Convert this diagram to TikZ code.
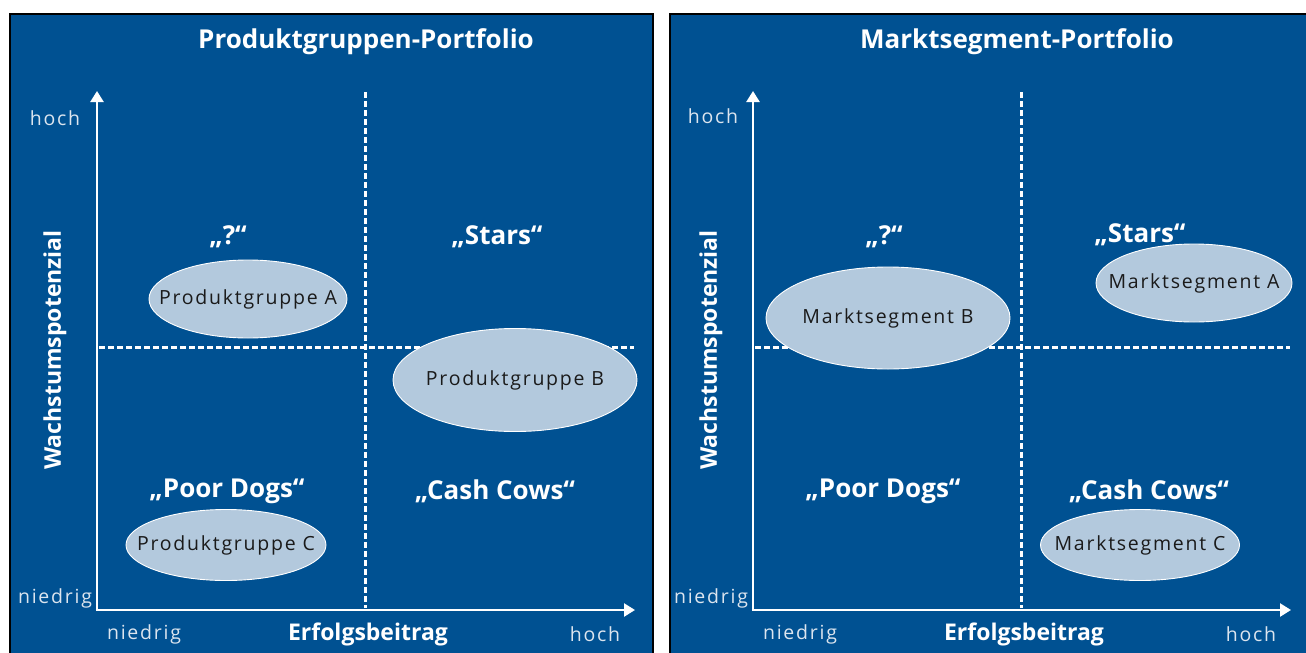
\documentclass[tikz,border=0pt]{standalone}
\usepackage{fontspec}
\setmainfont{Open Sans}
\usetikzlibrary{arrows.meta,shapes.geometric}
\definecolor{bblue}{HTML}{005192}
\definecolor{lblue}{HTML}{B3C9DD}
\definecolor{lgrey}{HTML}{DCE5EF}
\definecolor{dtext}{HTML}{1A1A1A}
\tikzset{
  panel/.style={fill=bblue, draw=black, line width=2},
  axisline/.style={white, line width=2.4, -{Triangle[width=13,length=11]}},
  dashline/.style={white, line width=3, dash pattern=on 5.5pt off 3.5pt},
  seg/.style={ellipse, fill=lblue, draw=white, line width=0.9, inner sep=0},
  segtext/.style={text=dtext, font=\fontsize{19.5}{22}\selectfont\addfontfeatures{LetterSpace=9}},
  title/.style={text=white, font=\fontsize{26}{29}\selectfont\bfseries},
  quad/.style={text=white, font=\fontsize{26}{29}\selectfont\bfseries},
  tick/.style={text=lgrey, font=\fontsize{19.5}{22}\selectfont\addfontfeatures{LetterSpace=9}},
  axlab/.style={text=white, font=\fontsize{23}{26}\selectfont\bfseries},
}
\begin{document}
\begin{tikzpicture}[x=1pt,y=-1pt]
\useasboundingbox (0,0) rectangle (1306,653);
\clip (0,0) rectangle (1306,653);
\fill[white] (0,0) rectangle (1306,653);
% panels
\draw[panel] (10,14) rectangle (653,670);
\draw[panel] (670,14) rectangle (1320,670);

% ---------- left panel ----------
\node[title] (t1) at (366,42) {Produktgruppen-Portfolio};
\coordinate (o1) at (97,610);
\coordinate (yt1) at (97,91);
\coordinate (xt1) at (635,610);
\coordinate (vd1a) at (365,92);
\coordinate (vd1b) at (365,608);
\coordinate (hd1a) at (99,347);
\coordinate (hd1b) at (634,347);
\draw[dashline] (vd1a) -- (vd1b);
\draw[dashline] (hd1a) -- (hd1b);
\draw[axisline] (o1) -- (yt1);
\draw[axisline] ([xshift=-1.2pt]o1) -- (xt1);

\node[tick] (h1y) at (55,118) {hoch};
\node[tick] (n1y) at (55,598) {niedrig};
\node[tick] (n1x) at (144,634) {niedrig};
\node[tick] (h1x) at (595,634) {hoch};
\node[axlab] (e1) at (368,634) {Erfolgsbeitrag};
\node[axlab, rotate=90] (w1) at (55,350) {Wachstumspotenzial};

\node[quad] (q1a) at (228,237) {„?“};
\node[quad] (q1b) at (497,237) {„Stars“};
\node[quad] (q1c) at (227,491) {„Poor Dogs“};
\node[quad] (q1d) at (495,491) {„Cash Cows“};

\node[seg, minimum width=198, minimum height=78] (pa) at (248,299) {};
\node[segtext] (pat) at (pa) {Produktgruppe A};
\node[seg, minimum width=244, minimum height=103] (pb) at (515,380) {};
\node[segtext] (pbt) at (pb) {Produktgruppe B};
\node[seg, minimum width=200, minimum height=71] (pc) at (226,545) {};
\node[segtext] (pct) at (pc) {Produktgruppe C};

% ---------- right panel ----------
\node[title] (t2) at (1017,42) {Marktsegment-Portfolio};
\coordinate (o2) at (753,610);
\coordinate (yt2) at (753,91);
\coordinate (xt2) at (1291,610);
\coordinate (vd2a) at (1021,92);
\coordinate (vd2b) at (1021,608);
\coordinate (hd2a) at (755,347);
\coordinate (hd2b) at (1290,347);
\draw[dashline] (vd2a) -- (vd2b);
\draw[dashline] (hd2a) -- (hd2b);
\draw[axisline] (o2) -- (yt2);
\draw[axisline] ([xshift=-1.2pt]o2) -- (xt2);

\node[tick] (h2y) at (713,116) {hoch};
\node[tick] (n2y) at (711,598) {niedrig};
\node[tick] (n2x) at (800,634) {niedrig};
\node[tick] (h2x) at (1251,634) {hoch};
\node[axlab] (e2) at (1024,634) {Erfolgsbeitrag};
\node[axlab, rotate=90] (w2) at (711,350) {Wachstumspotenzial};

\node[quad] (q2a) at (884,237) {„?“};
\node[quad] (q2b) at (1140,235) {„Stars“};
\node[quad] (q2c) at (883,491) {„Poor Dogs“};
\node[quad] (q2d) at (1149,491) {„Cash Cows“};

\node[seg, minimum width=244, minimum height=102] (mb) at (888,318) {};
\node[segtext] (mbt) at (mb) {Marktsegment B};
\node[seg, minimum width=196, minimum height=78] (ma) at (1194,283) {};
\node[segtext] (mat) at (ma) {Marktsegment A};
\node[seg, minimum width=199, minimum height=71] (mc) at (1140,545) {};
\node[segtext] (mct) at (mc) {Marktsegment C};
\end{tikzpicture}
\end{document}
